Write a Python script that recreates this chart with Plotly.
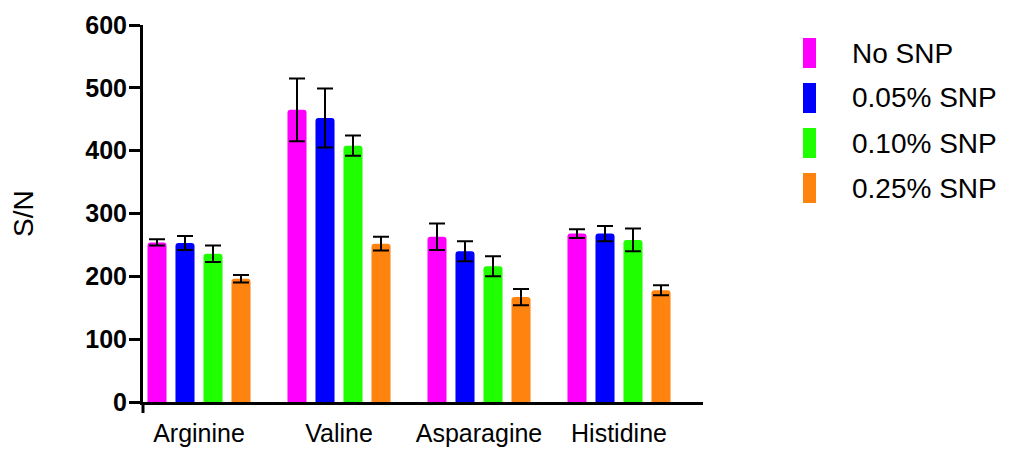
import plotly.graph_objects as go

# Amino acids on the x axis
categories = ["Arginine", "Valine", "Asparagine", "Histidine"]

# Series: SNP level
series_names = ["No SNP", "0.05% SNP", "0.10% SNP", "0.25% SNP"]
series_colors = ["#FF00FF", "#0000FF", "#1FFF00", "#FF830F"]

# Mean S/N per amino acid for each SNP level
no_snp = [254, 465, 263, 268]
snp_005 = [253, 452, 240, 268]
snp_010 = [236, 408, 216, 258]
snp_025 = [196, 252, 167, 178]

# Error (± SD) per amino acid for each SNP level
no_snp_err = [5, 50, 21, 7]
snp_005_err = [11, 47, 16, 12]
snp_010_err = [13, 16, 16, 18]
snp_025_err = [6, 11, 13, 8]

y_ticks = [0, 100, 200, 300, 400, 500, 600]

series_values = [no_snp, snp_005, snp_010, snp_025]
series_errors = [no_snp_err, snp_005_err, snp_010_err, snp_025_err]

FONT = "Liberation Sans, Arial, sans-serif"

fig = go.Figure()
for name, color, vals, errs in zip(series_names, series_colors, series_values, series_errors):
    fig.add_trace(go.Bar(
        name=name,
        x=categories,
        y=vals,
        marker=dict(color=color, line=dict(width=0), cornerradius=3),
        error_y=dict(type="data", array=errs, visible=True,
                     color="black", thickness=2, width=8),
        showlegend=False,
    ))

# Plot area in pixels
L, R, T, B = 143, 309, 25, 49
W, H = 1012, 451
pw, ph = W - L - R, H - T - B

fig.update_layout(
    width=W, height=H,
    margin=dict(l=L, r=R, t=T, b=B, autoexpand=False),
    paper_bgcolor="white",
    plot_bgcolor="white",
    barmode="group",
    bargap=0.2,
    bargroupgap=0.32,
    font=dict(family=FONT, color="black"),
)

fig.update_xaxes(
    range=[-0.4, 3.6],
    showline=True, linecolor="black", linewidth=3,
    ticks="", showgrid=False, zeroline=False,
    tickfont=dict(family=FONT, size=25, color="black"),
    ticklabelstandoff=7,
)

fig.update_yaxes(
    range=[0, 600],
    tickvals=y_ticks,
    showline=True, linecolor="black", linewidth=3,
    ticks="outside", ticklen=11, tickwidth=3, tickcolor="black",
    showgrid=False, zeroline=False,
    tickfont=dict(family=FONT, size=25, color="black", weight="bold"),
    ticklabelstandoff=-3,
)

# Prism-style extension of the y axis below the x axis
fig.add_shape(type="line", xref="paper", yref="paper",
              x0=0, x1=0, y0=0, y1=-11 / ph,
              line=dict(color="black", width=3))

# Y axis title
fig.add_annotation(
    text="S/N", textangle=-90,
    xref="paper", yref="paper",
    x=(23 - L) / pw, y=(H - B - 214) / ph,
    xanchor="center", yanchor="middle",
    showarrow=False,
    font=dict(family=FONT, size=28, color="black"),
)

# Legend: tall rounded swatches with labels
row_y = [53, 98, 143, 188]
for name, color, yc in zip(series_names, series_colors, row_y):
    y_top = (H - B - (yc - 15)) / ph
    y_bot = (H - B - (yc + 15)) / ph
    fig.add_shape(type="rect", xref="paper", yref="paper",
                  x0=(803 - L) / pw, x1=(816 - L) / pw,
                  y0=y_bot, y1=y_top,
                  fillcolor=color, line=dict(width=0), layer="above")
    fig.add_annotation(
        text=name,
        xref="paper", yref="paper",
        x=(850 - L) / pw, y=(H - B - yc) / ph,
        xanchor="left", yanchor="middle",
        showarrow=False,
        font=dict(family=FONT, size=28, color="black"),
    )

fig.write_html("out.html")
